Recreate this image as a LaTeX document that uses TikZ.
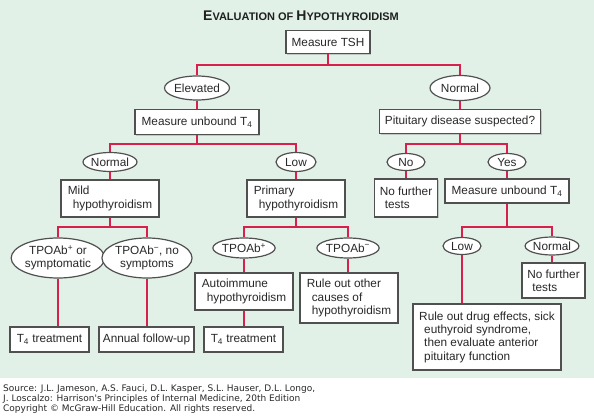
\documentclass[tikz,border=0pt]{standalone}
\usepackage{fontspec}
\setmainfont{Liberation Sans}
\newfontfamily\fontefonte{DejaVu Sans}
\usetikzlibrary{shapes.geometric,shadows}
\definecolor{fundo}{RGB}{226,241,231}
\definecolor{ligacao}{RGB}{216,32,76}
\definecolor{borda}{RGB}{80,80,80}
\definecolor{texto}{RGB}{40,40,40}
\tikzset{
  stepbox/.style={rectangle, draw=borda, fill=white, line width=1.1pt, inner sep=0pt, text=texto,
    font=\fontsize{11.8}{13.3}\selectfont, align=left,
    drop shadow={shadow xshift=1.2pt, shadow yshift=-1.2pt, opacity=0.35}},
  oval/.style={ellipse, draw=borda, fill=white, line width=1.2pt, inner sep=0pt, text=texto,
    font=\fontsize{11.8}{13.3}\selectfont, align=center},
  link/.style={draw=ligacao, line width=1.8pt},
  tam/.style 2 args={minimum width=#1, minimum height=#2},
}
\newcommand{\versalete}[2]{{\fontsize{14}{14}\selectfont #1}{\fontsize{11}{11}\selectfont #2}}
\newcommand{\recuo}{\hspace*{5pt}}

\begin{document}
\begin{tikzpicture}[x=1pt, y=-1pt]
  \useasboundingbox (0,0) rectangle (594,417);
  \fill[fundo] (0,0) rectangle (594,378);

  % ---------------- titulo ----------------
  \node[font=\bfseries, text=texto!80!black, inner sep=0pt] (titulo) at (301,16)
    {\versalete{E}{VALUATION OF }\versalete{H}{YPOTHYROIDISM}};

  % ---------------- nivel 1 ----------------
  \node[stepbox, tam={84}{23}] (tsh) at (328,42) {Measure TSH};
  \node[oval, tam={59}{24}] (elev) at (197,88) {Elevated};
  \node[oval, tam={60}{25}] (normA) at (460,88) {Normal};
  \node[stepbox, tam={124}{25}] (ubA) at (197,122) {Measure unbound T\textsubscript{4}};
  \node[stepbox, tam={161}{24}] (pit) at (460,121.5) {Pituitary disease suspected?};

  % ---------------- nivel 2 ----------------
  \node[oval, tam={54}{19}] (normB) at (110,162) {Normal};
  \node[oval, tam={40}{19}] (lowA) at (296,162) {Low};
  \node[oval, tam={38}{17}] (noA) at (406,162) {No};
  \node[oval, tam={38}{17}] (yes) at (507,162) {Yes};
  \node[stepbox, tam={98}{37}] (mild) at (110,198.5) {Mild\\\recuo hypothyroidism};
  \node[stepbox, tam={98}{37}] (prim) at (296,198.5) {Primary\\\recuo hypothyroidism};
  \node[stepbox, tam={63}{38}] (nofA) at (406,198) {No further\\\recuo tests};
  \node[stepbox, tam={124}{24}] (ubB) at (507,191) {Measure unbound T\textsubscript{4}};

  % ---------------- nivel 3 ----------------
  \node[oval, tam={91}{40}] (tpoP) at (58,258) {TPOAb\textsuperscript{+} or\\symptomatic};
  \node[oval, tam={78}{40}] (tpoN) at (147,258) {TPOAb\textsuperscript{−}, no\\symptoms};
  \node[oval, tam={58}{20}] (tpoP2) at (244,248) {TPOAb\textsuperscript{+}};
  \node[oval, tam={58}{20}] (tpoN2) at (348,248) {TPOAb\textsuperscript{−}};
  \node[oval, tam={38}{17}] (lowB) at (462,246) {Low};
  \node[oval, tam={51}{18}] (normC) at (552,246) {Normal};
  \node[stepbox, tam={98}{37}] (auto) at (244,291.5) {Autoimmune\\\recuo hypothyroidism};
  \node[stepbox, tam={98}{50}] (ruleO) at (349,298) {Rule out other\\\recuo causes of\\\recuo hypothyroidism};
  \node[stepbox, tam={63}{35}] (nofB) at (553.5,280.5) {No further\\\recuo tests};
  \node[stepbox, tam={148}{66}] (drug) at (487,337) {Rule out drug effects, sick\\\recuo euthyroid syndrome,\\\recuo then evaluate anterior\\\recuo pituitary function};

  % ---------------- nivel 4 ----------------
  \node[stepbox, tam={79}{25}] (t4A) at (49.5,339.5) {T\textsubscript{4} treatment};
  \node[stepbox, tam={95}{25}] (annual) at (146.5,339.5) {Annual follow-up};
  \node[stepbox, tam={79}{25}] (t4B) at (243.5,339.5) {T\textsubscript{4} treatment};

  % ---------------- ligacoes ----------------
  \coordinate (jtsh) at (328,65);
  \coordinate (jubA) at (197,144);
  \coordinate (jpit) at (460,144);
  \coordinate (jmild) at (110,227);
  \coordinate (jprim) at (296,227);
  \coordinate (jubB) at (507,227);
  \foreach \p/\l/\r in {tsh/elev/normA, ubA/normB/lowA, pit/noA/yes,
      mild/tpoP/tpoN, prim/tpoP2/tpoN2, ubB/lowB/normC} {
    \draw[link] (\p.south) -- (j\p);
    \draw[link] (\l.north) |- (j\p) -| (\r.north);
  }
  \foreach \a/\b in {elev/ubA, normA/pit, normB/mild, lowA/prim, noA/nofA, yes/ubB,
      tpoP/t4A, tpoN/annual, tpoP2/auto, auto/t4B, tpoN2/ruleO, lowB/drug, normC/nofB} {
    \draw[link] (\a.south) -- (\a.south |- \b.north);
  }

  % ---------------- fonte ----------------
  \node[anchor=north west, inner sep=0pt, align=left, text=texto,
    font=\fontefonte\fontsize{9}{10}\selectfont] (fonte) at (3,384)
    {Source: J.L. Jameson, A.S. Fauci, D.L. Kasper, S.L. Hauser, D.L. Longo,\\
     J. Loscalzo: Harrison's Principles of Internal Medicine, 20th Edition\\
     Copyright © McGraw-Hill Education. All rights reserved.};
\end{tikzpicture}
\end{document}
